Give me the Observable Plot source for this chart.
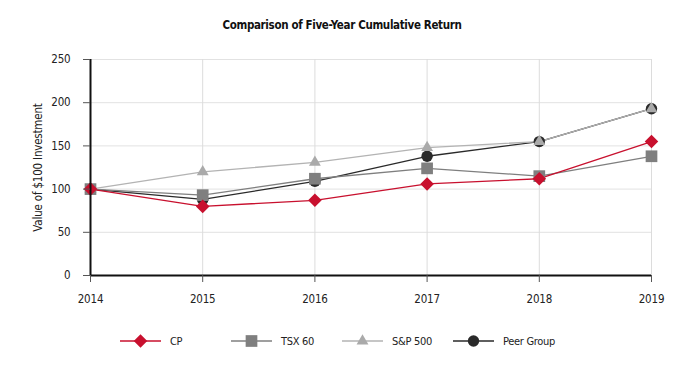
<!DOCTYPE html>
<html><head><meta charset="utf-8">
<script src="https://cdn.jsdelivr.net/npm/d3@7"></script>
<script src="https://cdn.jsdelivr.net/npm/@observablehq/plot@0.6"></script>
<style>
body{margin:0;background:#fff;font-family:"DejaVu Sans Condensed","Liberation Sans Narrow",sans-serif;}
#wrap{width:684px;}
#title{height:40px;box-sizing:border-box;padding-top:5px;line-height:40px;text-align:center;font-weight:bold;font-size:11.5px;letter-spacing:-0.35px;color:#111;}
#legend{display:flex;height:40px;align-items:center;font-size:11px;letter-spacing:-0.3px;color:#222;}
.item{display:flex;align-items:center;position:absolute;}
</style></head>
<body><div id="wrap"><div id="title">Comparison of Five-Year Cumulative Return</div><div id="chart"></div><div id="legend" style="position:relative"></div></div>
<script>
const years = [2014, 2015, 2016, 2017, 2018, 2019];
const seriesNames = ["Peer Group", "S&P 500", "TSX 60", "CP"];
const cp = [100, 80, 87, 106, 112, 155];
const tsx60 = [100, 93, 112, 124, 115, 138];
const sp500 = [100, 120, 131, 148, 155, 193];
const peer = [100, 88, 109, 138, 155, 193];
const yTicks = [0, 50, 100, 150, 200, 250];

const styles = {
  "CP": {stroke: "#c8102e", fill: "#c8102e", symbol: "diamond2", r: 6.1},
  "TSX 60": {stroke: "#7f7f7f", fill: "#7f7f7f", symbol: "square", r: 6.6},
  "S&P 500": {stroke: "#b3b3b3", fill: "#aaaaaa", symbol: "triangle", r: 4.4},
  "Peer Group": {stroke: "#2a2a2a", fill: "#2a2a2a", symbol: "circle", r: 5.7}
};
const valuesBy = {"CP": cp, "TSX 60": tsx60, "S&P 500": sp500, "Peer Group": peer};
const data = seriesNames.map(name => ({name, rows: years.map((year, i) => ({year, value: valuesBy[name][i], name}))}));

const marks = [
  Plot.gridY(yTicks, {stroke: "#e2e2e2", strokeOpacity: 1}),
  Plot.gridX(years, {stroke: "#dcdcdc", strokeOpacity: 1}),
];
for (const s of data) marks.push(Plot.line(s.rows, {x: "year", y: "value", stroke: styles[s.name].stroke, strokeWidth: 1.3}));
for (const s of data) marks.push(Plot.dot(s.rows, {x: "year", y: "value", fill: styles[s.name].fill, symbol: () => styles[s.name].symbol, r: styles[s.name].r, stroke: "none"}));
marks.push(Plot.ruleX([2014], {stroke: "#111", strokeWidth: 2}));
marks.push(Plot.ruleY([0], {stroke: "#111", strokeWidth: 2}));
marks.push(Plot.axisY(yTicks, {tickSize: 7, tickPadding: 13, fontSize: 11.5, label: "Value of $100 Investment", labelAnchor: "center", labelArrow: "none", labelOffset: 57, stroke: "#555"}));
marks.push(Plot.axisX(years, {tickSize: 7, tickPadding: 12, fontSize: 11.5, tickFormat: "d", label: null, stroke: "#555"}));

const chart = Plot.plot({
  width: 684, height: 280,
  marginLeft: 90, marginRight: 33, marginTop: 19, marginBottom: 45,
  style: {fontFamily: '"DejaVu Sans Condensed","Liberation Sans Narrow",sans-serif', color: "#222", fontSize: "11px", letterSpacing: "-0.2px"},
  x: {domain: [2014, 2019]},
  y: {domain: [0, 250]},
  symbol: {type: "identity"},
  marks
});
document.getElementById("chart").appendChild(chart);

// legend
const legendOrder = ["CP", "TSX 60", "S&P 500", "Peer Group"];
const legendX = [120, 231, 342, 453];
const leg = document.getElementById("legend");
const symMap = {diamond2: d3.symbolDiamond2, square: d3.symbolSquare, triangle: d3.symbolTriangle, circle: d3.symbolCircle};
legendOrder.forEach((name, i) => {
  const st = styles[name];
  const div = document.createElement("div");
  div.className = "item";
  div.style.left = legendX[i] + "px";
  div.style.top = "13px";
  const svg = d3.create("svg").attr("width", 44).attr("height", 16);
  svg.append("line").attr("x1", 0).attr("x2", 41).attr("y1", 8).attr("y2", 8).attr("stroke", st.stroke).attr("stroke-width", 1.5);
  svg.append("path").attr("transform", "translate(20.5,8)").attr("d", d3.symbol(symMap[st.symbol], Math.PI * st.r * st.r)()).attr("fill", st.fill);
  div.appendChild(svg.node());
  const t = document.createElement("span");
  t.textContent = name;
  t.style.marginLeft = "6px";
  div.appendChild(t);
  leg.appendChild(div);
});
</script></body></html>
